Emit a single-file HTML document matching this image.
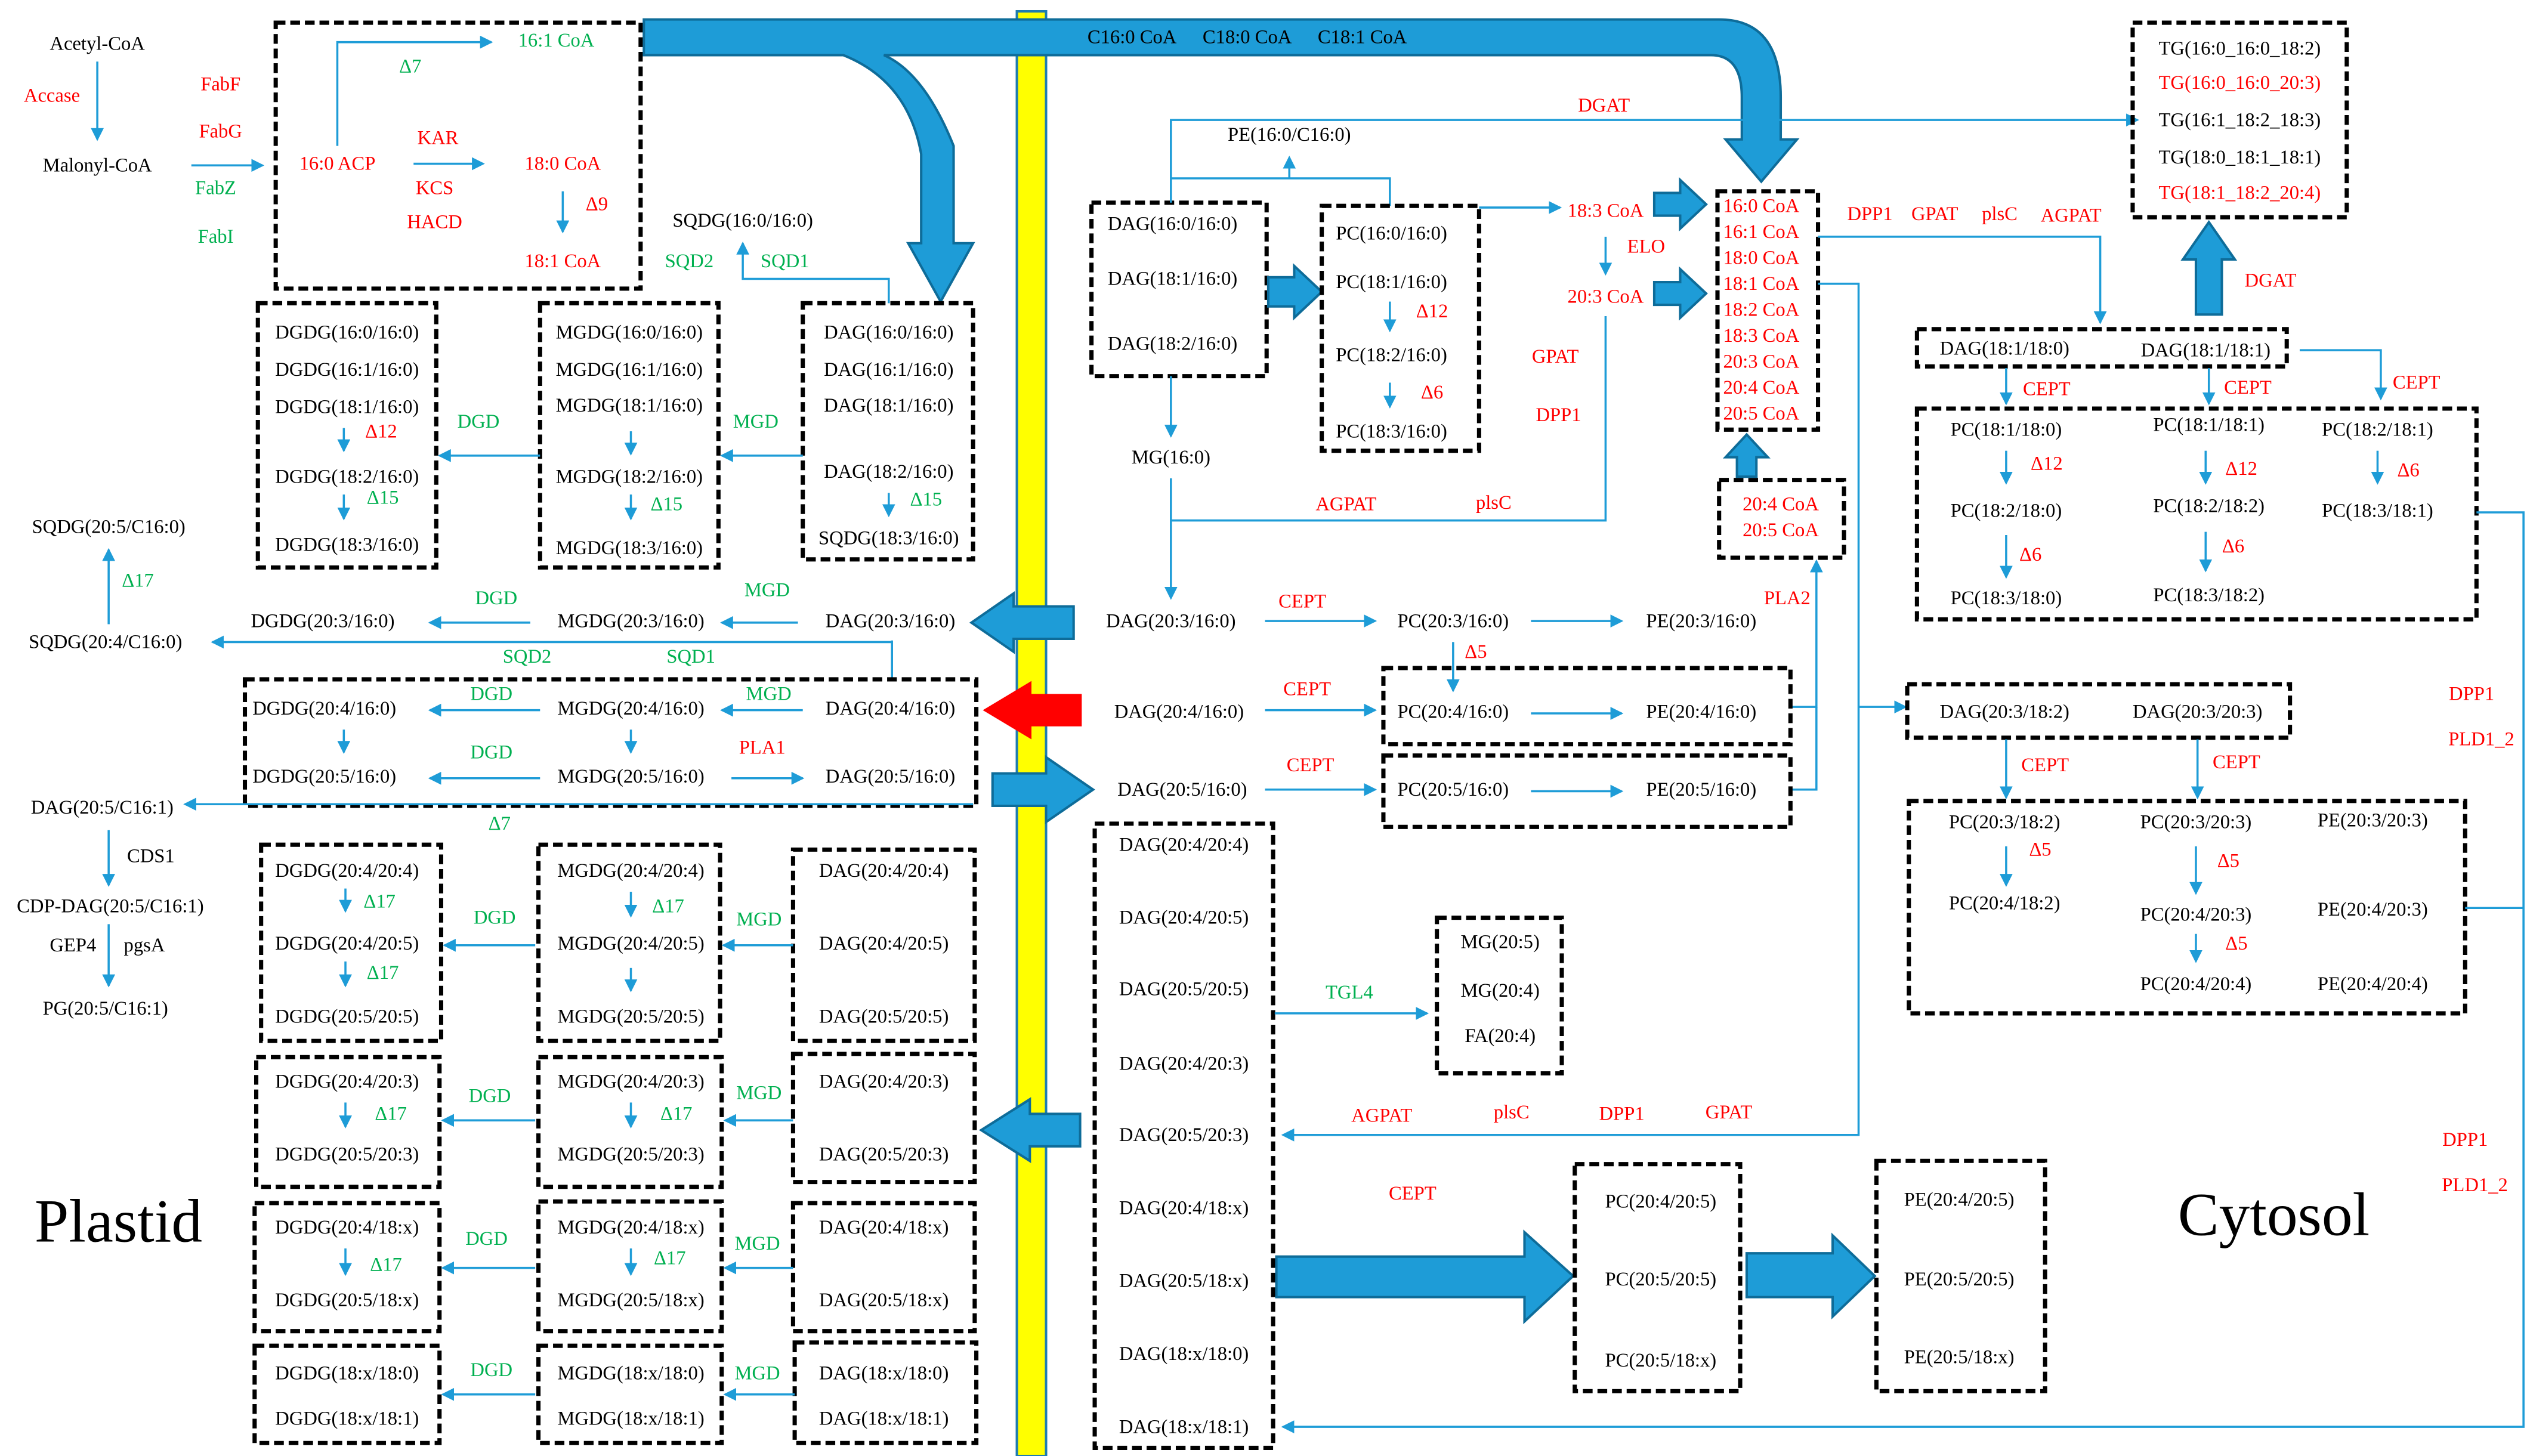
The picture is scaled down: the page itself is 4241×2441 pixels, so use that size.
<!DOCTYPE html>
<html><head><meta charset="utf-8"><style>
html,body{margin:0;padding:0;background:#fff;}
svg{display:block;}
text{font-family:"Liberation Serif",serif;font-size:12px;text-anchor:middle;dominant-baseline:middle;}
.r{fill:#ff0000;} .g{fill:#00b050;}
.bx{fill:none;stroke:#000;stroke-width:2.6;stroke-dasharray:6,3;}
.ln{fill:none;stroke:#1e9cd7;stroke-width:1.3;}
.ba{fill:#1e9cd7;stroke:#0e6c99;stroke-width:1.5;}
</style></head><body>
<svg width="4241" height="2441" viewBox="0 0 1560 898" preserveAspectRatio="none" font-family="Liberation Serif, serif" xmlns="http://www.w3.org/2000/svg">
<defs><marker id="a" markerWidth="8" markerHeight="8" refX="7" refY="4" orient="auto" markerUnits="userSpaceOnUse"><path d="M0,0 L8,4 L0,8 z" fill="#1e9cd7"/></marker></defs>
<rect width="1560" height="898" fill="#fff"/>

<rect x="627" y="7" width="18" height="891" fill="#ffff00" stroke="#1e7cb0" stroke-width="1.5"/>

<path class="ba" d="M397,12 H1060 Q1098,12 1098,60 V86 H1108 L1086,112 L1064,86 H1074 V60 Q1074,34 1055,34 H545 Q570,45 588,90 V150 H600 L580,186 L560,150 H568 V95 Q560,50 520,34 H397 Z"/>
<text x="698" y="24">C16:0 CoA</text><text x="769" y="24">C18:0 CoA</text><text x="840" y="24">C18:1 CoA</text>

<text x="60" y="28">Acetyl-CoA</text>
<line class="ln" x1="60" y1="38" x2="60" y2="86" marker-end="url(#a)"/>
<text x="32" y="60" class="r">Accase</text>
<text x="60" y="103">Malonyl-CoA</text>
<text x="136" y="53" class="r">FabF</text>
<text x="136" y="82" class="r">FabG</text>
<text x="133" y="117" class="g">FabZ</text>
<text x="133" y="147" class="g">FabI</text>
<line class="ln" x1="118" y1="102" x2="162" y2="102" marker-end="url(#a)"/>
<rect class="bx" x="170" y="14" width="225" height="164"/>
<text x="208" y="102" class="r">16:0 ACP</text>
<polyline class="ln" points="208,90 208,26 303,26" marker-end="url(#a)"/>
<text x="253" y="42" class="g">Δ7</text>
<text x="343" y="26" class="g">16:1 CoA</text>
<text x="270" y="86" class="r">KAR</text>
<line class="ln" x1="255" y1="101" x2="298" y2="101" marker-end="url(#a)"/>
<text x="268" y="117" class="r">KCS</text>
<text x="268" y="138" class="r">HACD</text>
<text x="347" y="102" class="r">18:0 CoA</text>
<line class="ln" x1="347" y1="118" x2="347" y2="143" marker-end="url(#a)"/>
<text x="368" y="127" class="r">Δ9</text>
<text x="347" y="162" class="r">18:1 CoA</text>

<rect class="bx" x="159" y="187" width="110" height="163"/>
<text x="214" y="206">DGDG(16:0/16:0)</text>
<text x="214" y="229">DGDG(16:1/16:0)</text>
<text x="214" y="252">DGDG(18:1/16:0)</text>
<line class="ln" x1="212" y1="264" x2="212" y2="278" marker-end="url(#a)"/><text x="235" y="267" class="r">Δ12</text>
<text x="214" y="295">DGDG(18:2/16:0)</text>
<line class="ln" x1="212" y1="305" x2="212" y2="320" marker-end="url(#a)"/><text x="236" y="308" class="g">Δ15</text>
<text x="214" y="337">DGDG(18:3/16:0)</text>

<rect class="bx" x="333" y="187" width="110" height="163"/>
<text x="388" y="206">MGDG(16:0/16:0)</text>
<text x="388" y="229">MGDG(16:1/16:0)</text>
<text x="388" y="251">MGDG(18:1/16:0)</text>
<line class="ln" x1="389" y1="266" x2="389" y2="280" marker-end="url(#a)"/>
<text x="388" y="295">MGDG(18:2/16:0)</text>
<line class="ln" x1="389" y1="305" x2="389" y2="320" marker-end="url(#a)"/><text x="411" y="312" class="g">Δ15</text>
<text x="388" y="339">MGDG(18:3/16:0)</text>

<rect class="bx" x="495" y="187" width="105" height="158"/>
<text x="548" y="206">DAG(16:0/16:0)</text>
<text x="548" y="229">DAG(16:1/16:0)</text>
<text x="548" y="251">DAG(18:1/16:0)</text>
<text x="548" y="292">DAG(18:2/16:0)</text>
<line class="ln" x1="548" y1="304" x2="548" y2="318" marker-end="url(#a)"/><text x="571" y="309" class="g">Δ15</text>
<text x="548" y="333">SQDG(18:3/16:0)</text>
<line class="ln" x1="333" y1="281" x2="271" y2="281" marker-end="url(#a)"/><text x="295" y="261" class="g">DGD</text>
<line class="ln" x1="495" y1="281" x2="445" y2="281" marker-end="url(#a)"/><text x="466" y="261" class="g">MGD</text>
<text x="458" y="137">SQDG(16:0/16:0)</text>
<text x="425" y="162" class="g">SQD2</text><text x="484" y="162" class="g">SQD1</text>
<polyline class="ln" points="548,187 548,172 458,172 458,150" marker-end="url(#a)"/>

<text x="67" y="326">SQDG(20:5/C16:0)</text>
<line class="ln" x1="67" y1="385" x2="67" y2="339" marker-end="url(#a)"/><text x="85" y="359" class="g">Δ17</text>
<text x="65" y="397">SQDG(20:4/C16:0)</text>
<text x="199" y="384">DGDG(20:3/16:0)</text>
<text x="389" y="384">MGDG(20:3/16:0)</text>
<text x="549" y="384">DAG(20:3/16:0)</text>
<line class="ln" x1="327" y1="384" x2="265" y2="384" marker-end="url(#a)"/><text x="306" y="370" class="g">DGD</text>
<line class="ln" x1="492" y1="384" x2="445" y2="384" marker-end="url(#a)"/><text x="473" y="365" class="g">MGD</text>
<polyline class="ln" points="550,395 550,420"/>
<line class="ln" x1="550" y1="396" x2="131" y2="396" marker-end="url(#a)"/>
<text x="325" y="406" class="g">SQD2</text><text x="426" y="406" class="g">SQD1</text>

<rect class="bx" x="151" y="419" width="451" height="78"/>
<text x="200" y="438">DGDG(20:4/16:0)</text>
<text x="389" y="438">MGDG(20:4/16:0)</text>
<text x="549" y="438">DAG(20:4/16:0)</text>
<line class="ln" x1="333" y1="438" x2="265" y2="438" marker-end="url(#a)"/><text x="303" y="429" class="g">DGD</text>
<line class="ln" x1="495" y1="438" x2="445" y2="438" marker-end="url(#a)"/><text x="474" y="429" class="g">MGD</text>
<line class="ln" x1="212" y1="450" x2="212" y2="464" marker-end="url(#a)"/>
<line class="ln" x1="389" y1="450" x2="389" y2="464" marker-end="url(#a)"/>
<text x="200" y="480">DGDG(20:5/16:0)</text>
<text x="389" y="480">MGDG(20:5/16:0)</text>
<text x="549" y="480">DAG(20:5/16:0)</text>
<line class="ln" x1="333" y1="480" x2="265" y2="480" marker-end="url(#a)"/><text x="303" y="465" class="g">DGD</text>
<line class="ln" x1="451" y1="480" x2="495" y2="480" marker-end="url(#a)"/><text x="470" y="462" class="r">PLA1</text>
<line class="ln" x1="600" y1="496" x2="114" y2="496" marker-end="url(#a)"/>
<text x="63" y="499">DAG(20:5/C16:1)</text>
<text x="308" y="509" class="g">Δ7</text>
<line class="ln" x1="67" y1="512" x2="67" y2="546" marker-end="url(#a)"/><text x="93" y="529">CDS1</text>
<text x="68" y="560">CDP-DAG(20:5/C16:1)</text>
<text x="45" y="584">GEP4</text><text x="89" y="584">pgsA</text>
<line class="ln" x1="67" y1="570" x2="67" y2="608" marker-end="url(#a)"/>
<text x="65" y="623">PG(20:5/C16:1)</text>

<rect class="bx" x="161" y="521" width="111" height="121"/>
<text x="214" y="538">DGDG(20:4/20:4)</text>
<line class="ln" x1="213" y1="548" x2="213" y2="562" marker-end="url(#a)"/><text x="234" y="557" class="g">Δ17</text>
<text x="214" y="583">DGDG(20:4/20:5)</text>
<line class="ln" x1="213" y1="593" x2="213" y2="608" marker-end="url(#a)"/><text x="236" y="601" class="g">Δ17</text>
<text x="214" y="628">DGDG(20:5/20:5)</text>
<rect class="bx" x="332" y="521" width="112" height="121"/>
<text x="389" y="538">MGDG(20:4/20:4)</text>
<line class="ln" x1="389" y1="550" x2="389" y2="565" marker-end="url(#a)"/><text x="412" y="560" class="g">Δ17</text>
<text x="389" y="583">MGDG(20:4/20:5)</text>
<line class="ln" x1="389" y1="597" x2="389" y2="611" marker-end="url(#a)"/>
<text x="389" y="628">MGDG(20:5/20:5)</text>
<rect class="bx" x="489" y="524" width="112" height="118"/>
<text x="545" y="538">DAG(20:4/20:4)</text>
<text x="545" y="583">DAG(20:4/20:5)</text>
<text x="545" y="628">DAG(20:5/20:5)</text>
<line class="ln" x1="330" y1="583" x2="274" y2="583" marker-end="url(#a)"/><text x="305" y="567" class="g">DGD</text>
<line class="ln" x1="489" y1="583" x2="446" y2="583" marker-end="url(#a)"/><text x="468" y="568" class="g">MGD</text>

<rect class="bx" x="158" y="652" width="113" height="80"/>
<text x="214" y="668">DGDG(20:4/20:3)</text>
<line class="ln" x1="213" y1="680" x2="213" y2="695" marker-end="url(#a)"/><text x="241" y="688" class="g">Δ17</text>
<text x="214" y="713">DGDG(20:5/20:3)</text>
<rect class="bx" x="332" y="652" width="113" height="80"/>
<text x="389" y="668">MGDG(20:4/20:3)</text>
<line class="ln" x1="389" y1="680" x2="389" y2="695" marker-end="url(#a)"/><text x="417" y="688" class="g">Δ17</text>
<text x="389" y="713">MGDG(20:5/20:3)</text>
<rect class="bx" x="489" y="650" width="112" height="79"/>
<text x="545" y="668">DAG(20:4/20:3)</text>
<text x="545" y="713">DAG(20:5/20:3)</text>
<line class="ln" x1="330" y1="691" x2="273" y2="691" marker-end="url(#a)"/><text x="302" y="677" class="g">DGD</text>
<line class="ln" x1="489" y1="691" x2="447" y2="691" marker-end="url(#a)"/><text x="468" y="675" class="g">MGD</text>

<rect class="bx" x="157" y="742" width="114" height="79"/>
<text x="214" y="758">DGDG(20:4/18:x)</text>
<line class="ln" x1="213" y1="770" x2="213" y2="786" marker-end="url(#a)"/><text x="238" y="781" class="g">Δ17</text>
<text x="214" y="803">DGDG(20:5/18:x)</text>
<rect class="bx" x="332" y="741" width="113" height="80"/>
<text x="389" y="758">MGDG(20:4/18:x)</text>
<line class="ln" x1="389" y1="770" x2="389" y2="786" marker-end="url(#a)"/><text x="413" y="777" class="g">Δ17</text>
<text x="389" y="803">MGDG(20:5/18:x)</text>
<rect class="bx" x="489" y="742" width="112" height="79"/>
<text x="545" y="758">DAG(20:4/18:x)</text>
<text x="545" y="803">DAG(20:5/18:x)</text>
<line class="ln" x1="330" y1="782" x2="273" y2="782" marker-end="url(#a)"/><text x="300" y="765" class="g">DGD</text>
<line class="ln" x1="489" y1="782" x2="447" y2="782" marker-end="url(#a)"/><text x="467" y="768" class="g">MGD</text>

<rect class="bx" x="157" y="830" width="114" height="60"/>
<text x="214" y="848">DGDG(18:x/18:0)</text>
<text x="214" y="876">DGDG(18:x/18:1)</text>
<rect class="bx" x="332" y="830" width="113" height="60"/>
<text x="389" y="848">MGDG(18:x/18:0)</text>
<text x="389" y="876">MGDG(18:x/18:1)</text>
<rect class="bx" x="490" y="828" width="112" height="62"/>
<text x="545" y="848">DAG(18:x/18:0)</text>
<text x="545" y="876">DAG(18:x/18:1)</text>
<line class="ln" x1="330" y1="860" x2="273" y2="860" marker-end="url(#a)"/><text x="303" y="846" class="g">DGD</text>
<line class="ln" x1="490" y1="860" x2="447" y2="860" marker-end="url(#a)"/><text x="467" y="848" class="g">MGD</text>

<text x="73" y="757" style="font-size:38px">Plastid</text>
<text x="1402" y="753" style="font-size:38px">Cytosol</text>

<path class="ba" d="M662,374 H625 V366 L599,384 L625,402 V394 H662 Z"/>
<path d="M667,428 H636 V420 L606,438 L636,456 V448 H667 Z" fill="#ff0000"/>
<path class="ba" d="M612,477 H645 V467 L674,487 L645,507 V497 H612 Z"/>
<path class="ba" d="M666,687 H635 V678 L605,697 L635,716 V707 H666 Z"/>

<rect class="bx" x="673" y="125" width="108" height="107"/>
<text x="723" y="139">DAG(16:0/16:0)</text>
<text x="723" y="173">DAG(18:1/16:0)</text>
<text x="723" y="213">DAG(18:2/16:0)</text>
<text x="795" y="84">PE(16:0/C16:0)</text>
<polyline class="ln" points="722,125 722,74 1318,74" marker-end="url(#a)"/>
<text x="989" y="66" class="r">DGAT</text>
<polyline class="ln" points="722,110 857,110 857,127"/>
<line class="ln" x1="795" y1="110" x2="795" y2="97" marker-end="url(#a)"/>
<path class="ba" d="M782,171 H798 V164 L815,180 L798,196 V189 H782 Z"/>
<rect class="bx" x="815" y="127" width="97" height="151"/>
<text x="858" y="145">PC(16:0/16:0)</text>
<text x="858" y="175">PC(18:1/16:0)</text>
<line class="ln" x1="857" y1="186" x2="857" y2="204" marker-end="url(#a)"/><text x="883" y="193" class="r">Δ12</text>
<text x="858" y="220">PC(18:2/16:0)</text>
<line class="ln" x1="857" y1="236" x2="857" y2="251" marker-end="url(#a)"/><text x="883" y="243" class="r">Δ6</text>
<text x="858" y="267">PC(18:3/16:0)</text>
<line class="ln" x1="912" y1="128" x2="962" y2="128" marker-end="url(#a)"/>
<text x="990" y="131" class="r">18:3 CoA</text>
<line class="ln" x1="990" y1="146" x2="990" y2="169" marker-end="url(#a)"/><text x="1015" y="153" class="r">ELO</text>
<text x="990" y="184" class="r">20:3 CoA</text>
<text x="959" y="221" class="r">GPAT</text>
<text x="961" y="257" class="r">DPP1</text>
<polyline class="ln" points="990,195 990,321 722,321"/>
<text x="830" y="312" class="r">AGPAT</text><text x="921" y="311" class="r">plsC</text>
<path class="ba" d="M1020,119 H1036 V111 L1052,126 L1036,141 V133 H1020 Z"/>
<path class="ba" d="M1020,174 H1036 V166 L1052,181 L1036,196 V188 H1020 Z"/>
<line class="ln" x1="722" y1="232" x2="722" y2="269" marker-end="url(#a)"/>
<text x="722" y="283">MG(16:0)</text>
<line class="ln" x1="722" y1="295" x2="722" y2="369" marker-end="url(#a)"/>

<rect class="bx" x="1059" y="118" width="62" height="147"/>
<text x="1086" y="128" class="r">16:0 CoA</text>
<text x="1086" y="144" class="r">16:1 CoA</text>
<text x="1086" y="160" class="r">18:0 CoA</text>
<text x="1086" y="176" class="r">18:1 CoA</text>
<text x="1086" y="192" class="r">18:2 CoA</text>
<text x="1086" y="208" class="r">18:3 CoA</text>
<text x="1086" y="224" class="r">20:3 CoA</text>
<text x="1086" y="240" class="r">20:4 CoA</text>
<text x="1086" y="256" class="r">20:5 CoA</text>
<rect class="bx" x="1060" y="296" width="77" height="48"/>
<text x="1098" y="312" class="r">20:4 CoA</text>
<text x="1098" y="328" class="r">20:5 CoA</text>
<path class="ba" d="M1071,294 V282 H1064 L1077,268 L1090,282 H1083 V294 Z"/>
<text x="1102" y="370" class="r">PLA2</text>
<polyline class="ln" points="1104,436 1120,436 1120,346" marker-end="url(#a)"/>
<polyline class="ln" points="1104,487 1120,487 1120,436"/>

<text x="722" y="384">DAG(20:3/16:0)</text>
<text x="803" y="372" class="r">CEPT</text>
<line class="ln" x1="780" y1="383" x2="848" y2="383" marker-end="url(#a)"/>
<text x="896" y="384">PC(20:3/16:0)</text>
<line class="ln" x1="944" y1="383" x2="1000" y2="383" marker-end="url(#a)"/>
<text x="1049" y="384">PE(20:3/16:0)</text>
<line class="ln" x1="896" y1="396" x2="896" y2="426" marker-end="url(#a)"/><text x="910" y="403" class="r">Δ5</text>
<rect class="bx" x="853" y="412" width="251" height="47"/>
<text x="896" y="440">PC(20:4/16:0)</text>
<line class="ln" x1="944" y1="440" x2="1000" y2="440" marker-end="url(#a)"/>
<text x="1049" y="440">PE(20:4/16:0)</text>
<text x="727" y="440">DAG(20:4/16:0)</text>
<text x="806" y="426" class="r">CEPT</text>
<line class="ln" x1="780" y1="438" x2="848" y2="438" marker-end="url(#a)"/>
<rect class="bx" x="853" y="466" width="251" height="44"/>
<text x="896" y="488">PC(20:5/16:0)</text>
<line class="ln" x1="944" y1="488" x2="1000" y2="488" marker-end="url(#a)"/>
<text x="1049" y="488">PE(20:5/16:0)</text>
<text x="729" y="488">DAG(20:5/16:0)</text>
<text x="808" y="473" class="r">CEPT</text>
<line class="ln" x1="780" y1="487" x2="848" y2="487" marker-end="url(#a)"/>

<rect class="bx" x="675" y="508" width="110" height="385"/>
<text x="730" y="522">DAG(20:4/20:4)</text>
<text x="730" y="567">DAG(20:4/20:5)</text>
<text x="730" y="611">DAG(20:5/20:5)</text>
<text x="730" y="657">DAG(20:4/20:3)</text>
<text x="730" y="701">DAG(20:5/20:3)</text>
<text x="730" y="746">DAG(20:4/18:x)</text>
<text x="730" y="791">DAG(20:5/18:x)</text>
<text x="730" y="836">DAG(18:x/18:0)</text>
<text x="730" y="881">DAG(18:x/18:1)</text>
<line class="ln" x1="786" y1="625" x2="880" y2="625" marker-end="url(#a)"/>
<text x="832" y="613" class="g">TGL4</text>
<rect class="bx" x="886" y="566" width="77" height="96"/>
<text x="925" y="582">MG(20:5)</text>
<text x="925" y="612">MG(20:4)</text>
<text x="925" y="640">FA(20:4)</text>
<text x="852" y="689" class="r">AGPAT</text><text x="932" y="687" class="r">plsC</text>
<text x="1000" y="688" class="r">DPP1</text><text x="1066" y="687" class="r">GPAT</text>
<polyline class="ln" points="1121,175 1146,175 1146,700 791,700" marker-end="url(#a)"/>
<line class="ln" x1="1146" y1="436" x2="1175" y2="436" marker-end="url(#a)"/>
<text x="871" y="737" class="r">CEPT</text>
<path class="ba" d="M787,775 H940 V760 L970,787 L940,815 V800 H787 Z"/>
<rect class="bx" x="971" y="718" width="102" height="140"/>
<text x="1024" y="742">PC(20:4/20:5)</text>
<text x="1024" y="790">PC(20:5/20:5)</text>
<text x="1024" y="840">PC(20:5/18:x)</text>
<path class="ba" d="M1077,773 H1130 V762 L1156,787 L1130,812 V800 H1077 Z"/>
<rect class="bx" x="1157" y="716" width="104" height="142"/>
<text x="1208" y="741">PE(20:4/20:5)</text>
<text x="1208" y="790">PE(20:5/20:5)</text>
<text x="1208" y="838">PE(20:5/18:x)</text>

<rect class="bx" x="1315" y="14" width="132" height="120"/>
<text x="1381" y="31">TG(16:0_16:0_18:2)</text>
<text x="1381" y="52" class="r">TG(16:0_16:0_20:3)</text>
<text x="1381" y="75">TG(16:1_18:2_18:3)</text>
<text x="1381" y="98">TG(18:0_18:1_18:1)</text>
<text x="1381" y="120" class="r">TG(18:1_18:2_20:4)</text>
<path class="ba" d="M1354,194 V160 H1346 L1362,137 L1378,160 H1370 V194 Z"/>
<text x="1400" y="174" class="r">DGAT</text>
<text x="1153" y="133" class="r">DPP1</text><text x="1193" y="133" class="r">GPAT</text>
<text x="1233" y="133" class="r">plsC</text><text x="1277" y="134" class="r">AGPAT</text>
<polyline class="ln" points="1121,146 1295,146 1295,199" marker-end="url(#a)"/>
<rect class="bx" x="1182" y="203" width="228" height="23"/>
<text x="1236" y="216">DAG(18:1/18:0)</text>
<text x="1360" y="217">DAG(18:1/18:1)</text>
<polyline class="ln" points="1418,216 1468,216 1468,246" marker-end="url(#a)"/>
<line class="ln" x1="1237" y1="227" x2="1237" y2="249" marker-end="url(#a)"/>
<line class="ln" x1="1362" y1="227" x2="1362" y2="249" marker-end="url(#a)"/>
<text x="1262" y="241" class="r">CEPT</text><text x="1386" y="240" class="r">CEPT</text><text x="1490" y="237" class="r">CEPT</text>
<rect class="bx" x="1182" y="252" width="345" height="130"/>
<text x="1237" y="266">PC(18:1/18:0)</text>
<text x="1362" y="263">PC(18:1/18:1)</text>
<text x="1466" y="266">PC(18:2/18:1)</text>
<line class="ln" x1="1237" y1="278" x2="1237" y2="298" marker-end="url(#a)"/><text x="1262" y="287" class="r">Δ12</text>
<line class="ln" x1="1360" y1="278" x2="1360" y2="298" marker-end="url(#a)"/><text x="1382" y="290" class="r">Δ12</text>
<line class="ln" x1="1466" y1="278" x2="1466" y2="298" marker-end="url(#a)"/><text x="1485" y="291" class="r">Δ6</text>
<text x="1237" y="316">PC(18:2/18:0)</text>
<text x="1362" y="313">PC(18:2/18:2)</text>
<text x="1466" y="316">PC(18:3/18:1)</text>
<line class="ln" x1="1237" y1="330" x2="1237" y2="356" marker-end="url(#a)"/><text x="1252" y="343" class="r">Δ6</text>
<line class="ln" x1="1360" y1="328" x2="1360" y2="352" marker-end="url(#a)"/><text x="1377" y="338" class="r">Δ6</text>
<text x="1237" y="370">PC(18:3/18:0)</text>
<text x="1362" y="368">PC(18:3/18:2)</text>

<rect class="bx" x="1176" y="422" width="236" height="33"/>
<text x="1236" y="440">DAG(20:3/18:2)</text>
<text x="1355" y="440">DAG(20:3/20:3)</text>
<line class="ln" x1="1237" y1="456" x2="1237" y2="492" marker-end="url(#a)"/>
<line class="ln" x1="1355" y1="456" x2="1355" y2="492" marker-end="url(#a)"/>
<text x="1261" y="473" class="r">CEPT</text><text x="1379" y="471" class="r">CEPT</text>
<rect class="bx" x="1177" y="494" width="343" height="131"/>
<text x="1236" y="508">PC(20:3/18:2)</text>
<text x="1354" y="508">PC(20:3/20:3)</text>
<text x="1463" y="507">PE(20:3/20:3)</text>
<line class="ln" x1="1237" y1="522" x2="1237" y2="546" marker-end="url(#a)"/><text x="1258" y="525" class="r">Δ5</text>
<text x="1236" y="558">PC(20:4/18:2)</text>
<line class="ln" x1="1354" y1="522" x2="1354" y2="551" marker-end="url(#a)"/><text x="1374" y="532" class="r">Δ5</text>
<text x="1354" y="565">PC(20:4/20:3)</text>
<text x="1463" y="562">PE(20:4/20:3)</text>
<line class="ln" x1="1354" y1="576" x2="1354" y2="593" marker-end="url(#a)"/><text x="1379" y="583" class="r">Δ5</text>
<text x="1354" y="608">PC(20:4/20:4)</text>
<text x="1463" y="608">PE(20:4/20:4)</text>

<polyline class="ln" points="1527,316 1556,316 1556,880 791,880" marker-end="url(#a)"/>
<line class="ln" x1="1520" y1="560" x2="1556" y2="560"/>
<text x="1524" y="429" class="r">DPP1</text>
<text x="1530" y="457" class="r">PLD1_2</text>
<text x="1520" y="704" class="r">DPP1</text>
<text x="1526" y="732" class="r">PLD1_2</text>
</svg>
</body></html>
